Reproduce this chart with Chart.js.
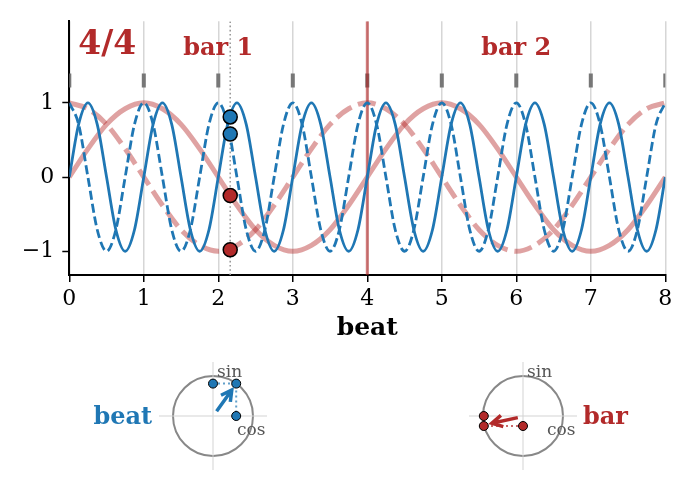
<!DOCTYPE html>
<html>
<head>
<meta charset="utf-8">
<script src="https://cdn.jsdelivr.net/npm/chart.js@4.4.0/dist/chart.umd.min.js"></script>
<style>
    body { margin: 0; background: #fff; }
    #page { position: relative; width: 695px; height: 492px; overflow: hidden; }
    canvas { position: absolute; }
</style>
</head>
<body>
<div id="page">
    <canvas id="mainChart" width="695" height="345" style="left:0;top:0"></canvas>
    <canvas id="beatChart" width="220" height="130" style="left:80px;top:350px"></canvas>
    <canvas id="barChart" width="220" height="130" style="left:440px;top:350px"></canvas>
</div>
<script>
"use strict";
// beat curves, sampled every 1/8 beat from 0 to 8
var beatStep = 0.125;
var beatSin = [
    0, 0.71, 1, 0.71, 0, -0.71, -1, -0.71,
    0, 0.71, 1, 0.71, 0, -0.71, -1, -0.71,
    0, 0.71, 1, 0.71, 0, -0.71, -1, -0.71,
    0, 0.71, 1, 0.71, 0, -0.71, -1, -0.71,
    0, 0.71, 1, 0.71, 0, -0.71, -1, -0.71,
    0, 0.71, 1, 0.71, 0, -0.71, -1, -0.71,
    0, 0.71, 1, 0.71, 0, -0.71, -1, -0.71,
    0, 0.71, 1, 0.71, 0, -0.71, -1, -0.71,
    0
];
var beatCos = [
    1, 0.71, 0, -0.71, -1, -0.71, 0, 0.71,
    1, 0.71, 0, -0.71, -1, -0.71, 0, 0.71,
    1, 0.71, 0, -0.71, -1, -0.71, 0, 0.71,
    1, 0.71, 0, -0.71, -1, -0.71, 0, 0.71,
    1, 0.71, 0, -0.71, -1, -0.71, 0, 0.71,
    1, 0.71, 0, -0.71, -1, -0.71, 0, 0.71,
    1, 0.71, 0, -0.71, -1, -0.71, 0, 0.71,
    1, 0.71, 0, -0.71, -1, -0.71, 0, 0.71,
    1
];
// bar curves, sampled every 1/4 beat
var barStep = 0.25;
var barSin = [
    0, 0.38, 0.71, 0.92, 1, 0.92, 0.71, 0.38,
    0, -0.38, -0.71, -0.92, -1, -0.92, -0.71, -0.38,
    0, 0.38, 0.71, 0.92, 1, 0.92, 0.71, 0.38,
    0, -0.38, -0.71, -0.92, -1, -0.92, -0.71, -0.38,
    0
];
var barCos = [
    1, 0.92, 0.71, 0.38, 0, -0.38, -0.71, -0.92,
    -1, -0.92, -0.71, -0.38, 0, 0.38, 0.71, 0.92,
    1, 0.92, 0.71, 0.38, 0, -0.38, -0.71, -0.92,
    -1, -0.92, -0.71, -0.38, 0, 0.38, 0.71, 0.92,
    1
];
var beatTicks = [0, 1, 2, 3, 4, 5, 6, 7, 8];
var yTicks = [-1, 0, 1];
var barLine = 4;
var barLabels = ["bar 1", "bar 2"];
var barLabelBeats = [2, 6];
var meter = "4/4";
// current position and its phases [sin, cos]
var cursorBeat = 2.16;
var beatSinCos = [0.81, 0.58];
var barSinCos = [-0.25, -0.98];
var beatArrow = [[0.09, 0.12], [0.47, 0.65]];
var barArrow = [[-0.13, -0.04], [-0.78, -0.18]];

var blue = "#1f77b4";
var red = "#b22a2a";
var redSoft = "rgba(178,34,34,0.42)";
var serif = "'DejaVu Serif', serif";
Chart.defaults.font.family = serif;
Chart.defaults.color = "#000";

function pts(vals, step) {
    return vals.map(function (v, i) { return {x: i * step, y: v}; });
}

var textPlugin = {
    id: 'notes',
    afterDatasetsDraw: function (chart, args, opts) {
        var ctx = chart.ctx, xs = chart.scales.x, ys = chart.scales.y;
        (opts.items || []).forEach(function (t) {
            ctx.save();
            ctx.font = t.font;
            ctx.fillStyle = t.color;
            ctx.textAlign = t.align;
            ctx.textBaseline = 'middle';
            ctx.fillText(t.text, xs.getPixelForValue(t.x), ys.getPixelForValue(t.y));
            ctx.restore();
        });
    }
};

var yMin = -1.32, yMax = 2.1;
var notes = [{text: meter, x: 0.12, y: 1.78, font: "bold 33px " + serif, color: red, align: 'left'}];
for (var i = 0; i < barLabels.length; i++) {
    notes.push({text: barLabels[i], x: barLabelBeats[i], y: 1.73, font: "bold 24px " + serif, color: red, align: 'center'});
}

var mainChart = new Chart(document.getElementById('mainChart'), {
    type: 'line',
    data: {
        datasets: [
            {
                type: 'scatter', order: 0,
                data: [{x: cursorBeat, y: beatSinCos[0]}, {x: cursorBeat, y: beatSinCos[1]}],
                pointRadius: 7, backgroundColor: blue, borderColor: '#000', borderWidth: 1.5
            },
            {
                type: 'scatter', order: 0,
                data: [{x: cursorBeat, y: barSinCos[0]}, {x: cursorBeat, y: barSinCos[1]}],
                pointRadius: 7, backgroundColor: red, borderColor: '#000', borderWidth: 1.5
            },
            {
                order: 1, data: pts(beatSin, beatStep), borderColor: blue, borderWidth: 2.8,
                pointRadius: 0, cubicInterpolationMode: 'monotone'
            },
            {
                order: 1, data: pts(beatCos, beatStep), borderColor: blue, borderWidth: 2.8,
                borderDash: [9, 4], pointRadius: 0, cubicInterpolationMode: 'monotone'
            },
            {
                order: 2, data: [{x: cursorBeat, y: yMin}, {x: cursorBeat, y: yMax}],
                borderColor: '#999', borderWidth: 1.6, borderDash: [1.6, 2.6], pointRadius: 0
            },
            {
                order: 3, data: [{x: barLine, y: yMin}, {x: barLine, y: yMax}],
                borderColor: 'rgba(178,34,34,0.6)', borderWidth: 3, pointRadius: 0
            },
            {
                order: 4, data: pts(barSin, barStep), borderColor: redSoft, borderWidth: 5,
                pointRadius: 0, cubicInterpolationMode: 'monotone'
            },
            {
                order: 4, data: pts(barCos, barStep), borderColor: redSoft, borderWidth: 5,
                borderDash: [18, 7], pointRadius: 0, cubicInterpolationMode: 'monotone'
            },
            {
                type: 'scatter', order: 5,
                data: beatTicks.map(function (b) { return {x: b, y: 1.3}; }),
                pointStyle: 'line', rotation: 90, pointRadius: 7, borderColor: '#777', borderWidth: 4
            }
        ]
    },
    options: {
        responsive: false,
        animation: false,
        events: [],
        layout: {padding: {left: 0, top: 20, right: 29.7, bottom: 0}},
        plugins: {legend: {display: false}, tooltip: {enabled: false}, notes: {items: notes}},
        scales: {
            x: {
                type: 'linear', min: 0, max: 8,
                afterFit: function (s) { s.height = 70; },
                afterBuildTicks: function (s) { s.ticks = beatTicks.map(function (v) { return {value: v}; }); },
                grid: {color: '#d6d6d6', lineWidth: 1.5, tickColor: '#000', tickLength: 7, tickWidth: 1.5},
                border: {color: '#000', width: 2},
                ticks: {font: {size: 22}, padding: 4, maxRotation: 0},
                title: {display: true, text: 'beat', font: {size: 25, weight: 'bold'}, padding: {top: 0, bottom: 2}}
            },
            y: {
                min: yMin, max: yMax,
                afterFit: function (s) { s.width = 69.3; },
                afterBuildTicks: function (s) { s.ticks = yTicks.map(function (v) { return {value: v}; }); },
                grid: {drawOnChartArea: false, tickColor: '#000', tickLength: 7, tickWidth: 1.5},
                border: {color: '#000', width: 2},
                ticks: {
                    font: {size: 22}, padding: 8,
                    callback: function (v) { return v < 0 ? '\u2212' + Math.abs(v) : String(v); }
                }
            }
        }
    },
    plugins: [textPlugin]
});

var phasePlugin = {
    id: 'phase',
    beforeDatasetsDraw: function (chart) {
        var ctx = chart.ctx, xs = chart.scales.x, ys = chart.scales.y;
        var cx = xs.getPixelForValue(0), cy = ys.getPixelForValue(0);
        ctx.save();
        ctx.strokeStyle = '#888';
        ctx.lineWidth = 2;
        ctx.beginPath();
        ctx.arc(cx, cy, xs.getPixelForValue(1) - cx, 0, 2 * Math.PI);
        ctx.stroke();
        ctx.restore();
    },
    afterDatasetsDraw: function (chart, args, opts) {
        var ctx = chart.ctx, xs = chart.scales.x, ys = chart.scales.y;
        var x0 = xs.getPixelForValue(opts.arrow[0][0]), y0 = ys.getPixelForValue(opts.arrow[0][1]);
        var x1 = xs.getPixelForValue(opts.arrow[1][0]), y1 = ys.getPixelForValue(opts.arrow[1][1]);
        var a = Math.atan2(y1 - y0, x1 - x0), h = 12;
        ctx.save();
        ctx.strokeStyle = opts.color;
        ctx.lineWidth = 3.5;
        ctx.lineCap = 'butt';
        ctx.lineJoin = 'miter';
        ctx.beginPath();
        ctx.moveTo(x0, y0);
        ctx.lineTo(x1, y1);
        ctx.moveTo(x1 - h * Math.cos(a - 0.5), y1 - h * Math.sin(a - 0.5));
        ctx.lineTo(x1, y1);
        ctx.lineTo(x1 - h * Math.cos(a + 0.5), y1 - h * Math.sin(a + 0.5));
        ctx.stroke();
        ctx.restore();
    }
};

function phaseChart(id, sc, color, guide, xMin, xMax, label, labelX, labelAlign, arrow) {
    var s = sc[0], c = sc[1];
    var path = [{x: 0, y: s}, {x: c, y: s}, {x: c, y: 0}];
    return new Chart(document.getElementById(id), {
        type: 'line',
        data: {
            datasets: [
                {
                    type: 'scatter', order: 0, data: path,
                    pointRadius: 4.5, backgroundColor: color, borderColor: '#000', borderWidth: 1
                },
                {
                    order: 1, data: path, borderColor: guide, borderWidth: 2,
                    borderDash: [2, 3], pointRadius: 0
                },
                {
                    order: 2, data: [{x: -1.35, y: 0}, {x: 1.35, y: 0}],
                    borderColor: '#d3d3d3', borderWidth: 1, pointRadius: 0
                },
                {
                    order: 2, data: [{x: 0, y: -1.35}, {x: 0, y: 1.35}],
                    borderColor: '#d3d3d3', borderWidth: 1, pointRadius: 0
                }
            ]
        },
        options: {
            responsive: false,
            animation: false,
            events: [],
            layout: {padding: 0, autoPadding: false},
            plugins: {
                legend: {display: false},
                tooltip: {enabled: false},
                phase: {arrow: arrow, color: color},
                notes: {
                    items: [
                        {text: 'sin', x: 0.1, y: 1.08, font: "17px " + serif, color: '#555', align: 'left'},
                        {text: 'cos', x: 0.6, y: -0.37, font: "17px " + serif, color: '#555', align: 'left'},
                        {text: label, x: labelX, y: -0.04, font: "bold 24px " + serif, color: color, align: labelAlign}
                    ]
                }
            },
            scales: {
                x: {type: 'linear', display: false, min: xMin, max: xMax},
                y: {display: false, min: -1.6, max: 1.65}
            }
        },
        plugins: [phasePlugin, textPlugin]
    });
}

var beatPhase = phaseChart('beatChart', beatSinCos, blue, 'rgba(31,119,180,0.7)', -3.325, 2.175, 'beat', -1.52, 'right', beatArrow);
var barPhase = phaseChart('barChart', barSinCos, red, 'rgba(178,42,42,0.7)', -2.075, 3.425, 'bar', 1.5, 'left', barArrow);
</script>
</body>
</html>
